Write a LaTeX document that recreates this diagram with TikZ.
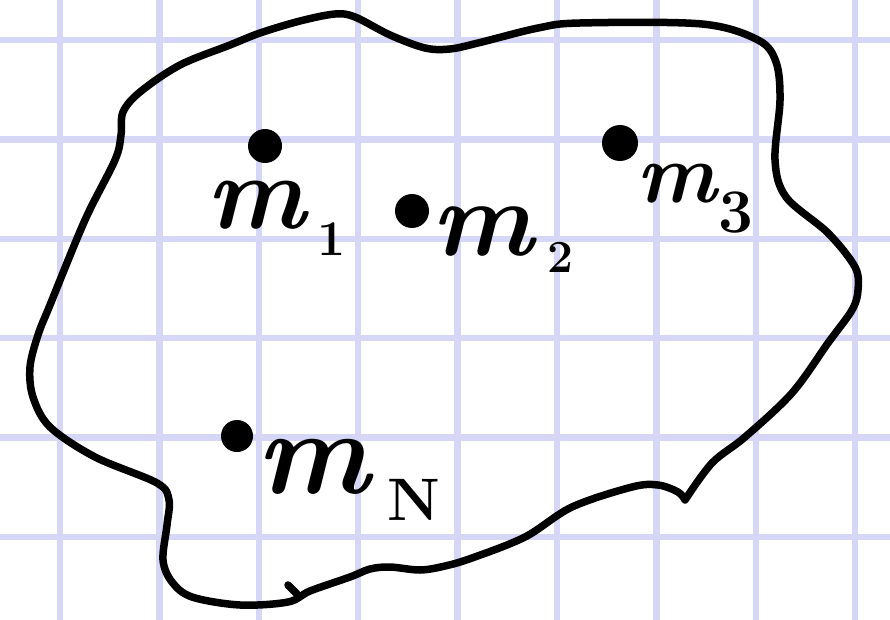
\documentclass[tikz,border=0pt]{standalone}
\definecolor{gridblue}{RGB}{214,214,246}
\tikzset{
  gridline/.style={draw=gridblue, line width=6.5pt},
  blob/.style={draw=black, line width=7.5pt, line join=round, line cap=round},
  mass/.style={circle, fill=black, inner sep=0pt, minimum size=#1},
  masslabel/.style={inner sep=0pt, anchor=base west},
}
\newcommand{\mlabel}[5]{{\fontsize{#1}{#1}\selectfont\bfseries\itshape m}\hspace{#2pt}\raisebox{-#3pt}{\fontsize{#4}{#4}\selectfont\bfseries #5}}
\begin{document}
\begin{tikzpicture}[x=1pt,y=-1pt]
\useasboundingbox (0,0) rectangle (890,620);
\fill[white] (0,0) rectangle (890,620);
% graph paper
\foreach \i in {0,...,8} \draw[gridline] ({60+99.4*\i},0) -- ({60+99.4*\i},620);
\foreach \j in {0,...,5} \draw[gridline] (0,{40+99.4*\j}) -- (890,{40+99.4*\j});
% the body
\draw[blob] plot[smooth, tension=0.55] coordinates {
 (685,500) (712,463) (745,437) (792,393) (828,343) (852,310) (858,290)
 (855,267) (828,233) (786,197) (775,160) (780,100) (776,62) (758,40)
 (702,24) (580,23) (538,28) (478,43) (450,49) (425,48) (390,35)
 (355,17) (335,14) (300,21) (260,33) (230,45) (180,65) (140,92) (123,112)
 (121,135) (115,160) (85,220) (50,305) (38,335) (30,367) (33,397)
 (50,427) (95,457) (157,483) (169,500) (167,525) (163,560) (172,582)
 (192,597) (240,605) (288,602) (310,591) (350,577) (370,569) (390,567)
 (420,570) (445,566) (472,558) (525,537) (572,507) (632,487) (658,485)
 (678,492) (685,500)};
\draw[blob] (288,585) -- (297,594);
% masses
\node[mass=34pt] (dot1) at (265,146) {};
\node[mass=34pt] (dot2) at (412,211) {};
\node[mass=36pt] (dot3) at (620,143) {};
\node[mass=32pt] (dotN) at (237,436) {};
% labels
\node[masslabel] (lab1) at (206,229) {\mlabel{105}{12}{26}{50}{1}};
\node[masslabel] (lab2) at (431,255) {\mlabel{108}{14}{17}{46}{2}};
\node[masslabel] (lab3) at (636,203) {\mlabel{85}{2}{30}{62}{3}};
\node[masslabel] (labN) at (256,493) {\mlabel{120}{18}{27}{60}{N}};
\end{tikzpicture}
\end{document}
